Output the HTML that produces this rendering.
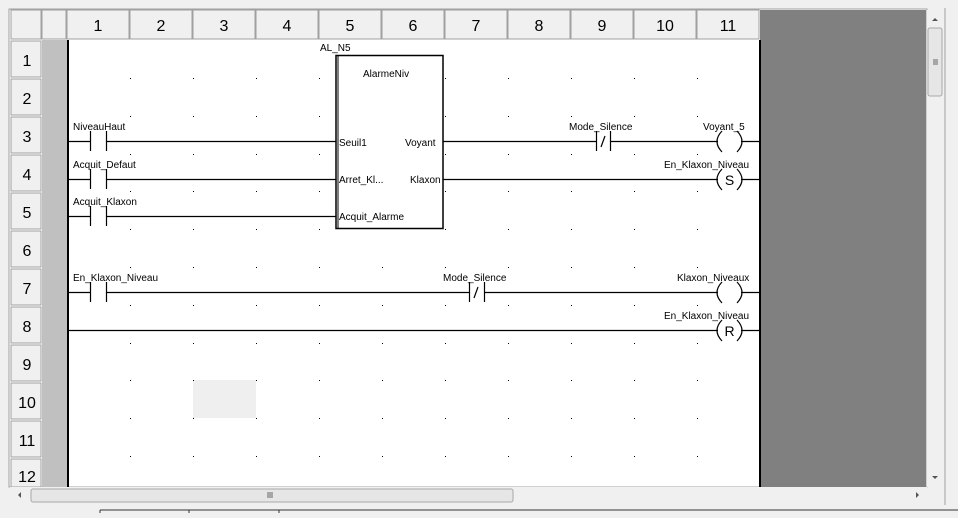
<!DOCTYPE html>
<html><head><style>
body{margin:0;width:958px;height:513px;overflow:hidden;background:#f0f0f0;font-family:"Liberation Sans",sans-serif}
</style></head><body>
<svg width="958" height="513" xmlns="http://www.w3.org/2000/svg" font-family="Liberation Sans, sans-serif">
<rect x="0" y="0" width="958" height="513" fill="#f0f0f0"/>
<rect x="9" y="9" width="918" height="478" fill="#fff" stroke="#a0a0a0"/>
<!-- gray right area -->
<rect x="760" y="10" width="166" height="477" fill="#808080"/>
<!-- gray left band -->
<rect x="42" y="40" width="26" height="447" fill="#c0c0c0"/>
<!-- header row -->
<g fill="#f0f0f0" stroke="#a0a0a0">
<rect x="11" y="10" width="30" height="29"/>
<rect x="42" y="10" width="24" height="29"/>
<rect x="67" y="10" width="62" height="29"/><rect x="130" y="10" width="62" height="29"/><rect x="193" y="10" width="62" height="29"/><rect x="256" y="10" width="62" height="29"/><rect x="319" y="10" width="62" height="29"/><rect x="382" y="10" width="62" height="29"/><rect x="445" y="10" width="62" height="29"/><rect x="508" y="10" width="62" height="29"/><rect x="571" y="10" width="62" height="29"/><rect x="634" y="10" width="62" height="29"/><rect x="697" y="10" width="62" height="29"/>
</g>
<g font-size="16" text-anchor="middle" fill="#000">
<text x="98" y="31">1</text><text x="161" y="31">2</text><text x="224" y="31">3</text><text x="287" y="31">4</text><text x="350" y="31">5</text><text x="413" y="31">6</text><text x="476" y="31">7</text><text x="539" y="31">8</text><text x="602" y="31">9</text><text x="665" y="31">10</text><text x="728" y="31">11</text>
</g>
<!-- row headers -->
<g fill="#f0f0f0" stroke="#a0a0a0">
<rect x="11" y="41" width="30" height="36"/><rect x="11" y="79" width="30" height="36"/><rect x="11" y="117" width="30" height="36"/><rect x="11" y="155" width="30" height="36"/><rect x="11" y="193" width="30" height="36"/><rect x="11" y="231" width="30" height="36"/><rect x="11" y="269" width="30" height="36"/><rect x="11" y="307" width="30" height="36"/><rect x="11" y="345" width="30" height="36"/><rect x="11" y="383" width="30" height="36"/><rect x="11" y="421" width="30" height="36"/><rect x="11" y="459" width="30" height="28"/>
</g>
<g font-size="16" text-anchor="middle" fill="#000">
<text x="27" y="66">1</text><text x="27" y="104">2</text><text x="27" y="142">3</text><text x="27" y="180">4</text><text x="27" y="218">5</text><text x="27" y="256">6</text><text x="27" y="294">7</text><text x="27" y="332">8</text><text x="27" y="370">9</text><text x="27" y="408">10</text><text x="27" y="446">11</text><text x="27" y="482">12</text>
</g>
<!-- selection cell -->
<rect x="193" y="380" width="63" height="38" fill="#efefef"/>
<!-- rails -->
<line x1="68" y1="40" x2="68" y2="487" stroke="#000" stroke-width="2"/>
<line x1="760" y1="40" x2="760" y2="487" stroke="#000" stroke-width="2"/>
<!-- dots -->
<g fill="#000" id="dots">
<rect x="130" y="78" width="1" height="1"/><rect x="193" y="78" width="1" height="1"/><rect x="256" y="78" width="1" height="1"/><rect x="319" y="78" width="1" height="1"/><rect x="445" y="78" width="1" height="1"/><rect x="508" y="78" width="1" height="1"/><rect x="571" y="78" width="1" height="1"/><rect x="634" y="78" width="1" height="1"/><rect x="697" y="78" width="1" height="1"/>
</g>
<g fill="#000">
<rect x="130" y="116" width="1" height="1"/><rect x="193" y="116" width="1" height="1"/><rect x="256" y="116" width="1" height="1"/><rect x="319" y="116" width="1" height="1"/><rect x="445" y="116" width="1" height="1"/><rect x="508" y="116" width="1" height="1"/><rect x="571" y="116" width="1" height="1"/><rect x="634" y="116" width="1" height="1"/><rect x="697" y="116" width="1" height="1"/>
<rect x="130" y="154" width="1" height="1"/><rect x="193" y="154" width="1" height="1"/><rect x="256" y="154" width="1" height="1"/><rect x="319" y="154" width="1" height="1"/><rect x="445" y="154" width="1" height="1"/><rect x="508" y="154" width="1" height="1"/><rect x="571" y="154" width="1" height="1"/><rect x="634" y="154" width="1" height="1"/><rect x="697" y="154" width="1" height="1"/>
<rect x="130" y="191" width="1" height="1"/><rect x="193" y="191" width="1" height="1"/><rect x="256" y="191" width="1" height="1"/><rect x="319" y="191" width="1" height="1"/><rect x="445" y="191" width="1" height="1"/><rect x="508" y="191" width="1" height="1"/><rect x="571" y="191" width="1" height="1"/><rect x="634" y="191" width="1" height="1"/><rect x="697" y="191" width="1" height="1"/>
<rect x="130" y="229" width="1" height="1"/><rect x="193" y="229" width="1" height="1"/><rect x="256" y="229" width="1" height="1"/><rect x="319" y="229" width="1" height="1"/><rect x="445" y="229" width="1" height="1"/><rect x="508" y="229" width="1" height="1"/><rect x="571" y="229" width="1" height="1"/><rect x="634" y="229" width="1" height="1"/><rect x="697" y="229" width="1" height="1"/>
<rect x="130" y="267" width="1" height="1"/><rect x="193" y="267" width="1" height="1"/><rect x="256" y="267" width="1" height="1"/><rect x="319" y="267" width="1" height="1"/><rect x="382" y="267" width="1" height="1"/><rect x="445" y="267" width="1" height="1"/><rect x="508" y="267" width="1" height="1"/><rect x="571" y="267" width="1" height="1"/><rect x="634" y="267" width="1" height="1"/><rect x="697" y="267" width="1" height="1"/>
<rect x="130" y="305" width="1" height="1"/><rect x="193" y="305" width="1" height="1"/><rect x="256" y="305" width="1" height="1"/><rect x="319" y="305" width="1" height="1"/><rect x="382" y="305" width="1" height="1"/><rect x="445" y="305" width="1" height="1"/><rect x="508" y="305" width="1" height="1"/><rect x="571" y="305" width="1" height="1"/><rect x="634" y="305" width="1" height="1"/><rect x="697" y="305" width="1" height="1"/>
<rect x="130" y="343" width="1" height="1"/><rect x="193" y="343" width="1" height="1"/><rect x="256" y="343" width="1" height="1"/><rect x="319" y="343" width="1" height="1"/><rect x="382" y="343" width="1" height="1"/><rect x="445" y="343" width="1" height="1"/><rect x="508" y="343" width="1" height="1"/><rect x="571" y="343" width="1" height="1"/><rect x="634" y="343" width="1" height="1"/><rect x="697" y="343" width="1" height="1"/>
<rect x="130" y="380" width="1" height="1"/><rect x="193" y="380" width="1" height="1"/><rect x="256" y="380" width="1" height="1"/><rect x="319" y="380" width="1" height="1"/><rect x="382" y="380" width="1" height="1"/><rect x="445" y="380" width="1" height="1"/><rect x="508" y="380" width="1" height="1"/><rect x="571" y="380" width="1" height="1"/><rect x="634" y="380" width="1" height="1"/><rect x="697" y="380" width="1" height="1"/>
<rect x="130" y="418" width="1" height="1"/><rect x="193" y="418" width="1" height="1"/><rect x="256" y="418" width="1" height="1"/><rect x="319" y="418" width="1" height="1"/><rect x="382" y="418" width="1" height="1"/><rect x="445" y="418" width="1" height="1"/><rect x="508" y="418" width="1" height="1"/><rect x="571" y="418" width="1" height="1"/><rect x="634" y="418" width="1" height="1"/><rect x="697" y="418" width="1" height="1"/>
<rect x="130" y="456" width="1" height="1"/><rect x="193" y="456" width="1" height="1"/><rect x="256" y="456" width="1" height="1"/><rect x="319" y="456" width="1" height="1"/><rect x="382" y="456" width="1" height="1"/><rect x="445" y="456" width="1" height="1"/><rect x="508" y="456" width="1" height="1"/><rect x="571" y="456" width="1" height="1"/><rect x="634" y="456" width="1" height="1"/><rect x="697" y="456" width="1" height="1"/>
</g>
<!-- function block -->
<rect x="336" y="55.5" width="107" height="173" fill="#fff" stroke="#000" stroke-width="1.5"/>
<line x1="338" y1="56" x2="338" y2="228" stroke="#000"/>
<g font-size="10" fill="#000">
<text x="320" y="51">AL_N5</text>
<text x="363" y="77">AlarmeNiv</text>
<text x="339" y="146">Seuil1</text>
<text x="405" y="146">Voyant</text>
<text x="339" y="183">Arret_Kl...</text>
<text x="410" y="183">Klaxon</text>
<text x="339" y="220">Acquit_Alarme</text>
</g>
<!-- wires -->
<g stroke="#000" stroke-width="1.2" fill="none">
<line x1="68" y1="141.5" x2="90" y2="141.5"/><line x1="106" y1="141.5" x2="336" y2="141.5"/>
<line x1="68" y1="179.5" x2="90" y2="179.5"/><line x1="106" y1="179.5" x2="336" y2="179.5"/>
<line x1="68" y1="216.5" x2="90" y2="216.5"/><line x1="106" y1="216.5" x2="336" y2="216.5"/>
<line x1="443" y1="141.5" x2="596" y2="141.5"/><line x1="610" y1="141.5" x2="718" y2="141.5"/><line x1="741" y1="141.5" x2="760" y2="141.5"/>
<line x1="443" y1="179.5" x2="718" y2="179.5"/><line x1="741" y1="179.5" x2="760" y2="179.5"/>
<line x1="68" y1="292.5" x2="90" y2="292.5"/><line x1="106" y1="292.5" x2="469" y2="292.5"/><line x1="484" y1="292.5" x2="718" y2="292.5"/><line x1="741" y1="292.5" x2="760" y2="292.5"/>
<line x1="68" y1="330.5" x2="718" y2="330.5"/><line x1="741" y1="330.5" x2="760" y2="330.5"/>
<!-- contacts -->
<path d="M90.5 131V151M106.5 131V151"/>
<path d="M90.5 169V189M106.5 169V189"/>
<path d="M90.5 206V226M106.5 206V226"/>
<path d="M90.5 282V302M106.5 282V302"/>
<path d="M596.5 131V151M610.5 131V151M601 147L605 136"/>
<path d="M469.5 282V302M484.5 282V302M474 298L478 287"/>
<!-- coils -->
<path d="M722 131Q712 141.5 722 152M737 131Q747 141.5 737 152"/>
<path d="M722 169Q712 179.5 722 190M737 169Q747 179.5 737 190"/>
<path d="M722 282Q712 292.5 722 303M737 282Q747 292.5 737 303"/>
<path d="M722 320Q712 330.5 722 341M737 320Q747 330.5 737 341"/>
</g>
<g font-size="10" fill="#000">
<text x="73" y="130">NiveauHaut</text>
<text x="73" y="168">Acquit_Defaut</text>
<text x="73" y="205">Acquit_Klaxon</text>
<text x="73" y="281">En_Klaxon_Niveau</text>
<text x="569" y="130">Mode_Silence</text>
<text x="443" y="281">Mode_Silence</text>
<text x="703" y="130">Voyant_5</text>
<text x="664" y="168">En_Klaxon_Niveau</text>
<text x="677" y="281">Klaxon_Niveaux</text>
<text x="664" y="319">En_Klaxon_Niveau</text>
<text x="729.5" y="185" font-size="14" text-anchor="middle">S</text>
<text x="729.5" y="336" font-size="14" text-anchor="middle">R</text>
</g>
<!-- vertical scrollbar -->
<rect x="927" y="10" width="17" height="477" fill="#f0f0f0"/>
<rect x="928" y="28" width="14" height="68" rx="2" fill="#e6e6e6" stroke="#a8a8a8"/>
<path d="M933 62h5M933 60h5M933 64h5" stroke="#666"/>
<path d="M932 21l3-3 3 3z" fill="#555"/>
<path d="M932 476l3 3 3-3z" fill="#555"/>
<!-- horizontal scrollbar -->
<rect x="10" y="487" width="917" height="17" fill="#f0f0f0"/>
<rect x="31" y="489" width="482" height="13" rx="2" fill="#e6e6e6" stroke="#a8a8a8"/>
<path d="M268 492v6M270 492v6M272 492v6" stroke="#666"/>
<path d="M18 495l3-3v6z" fill="#555"/>
<path d="M919 495l-3-3v6z" fill="#555"/>
<line x1="945" y1="8" x2="945" y2="505" stroke="#a0a0a0"/>
<!-- bottom tabs -->
<line x1="100" y1="510" x2="958" y2="510" stroke="#333"/>
<line x1="100" y1="510" x2="100" y2="513" stroke="#333"/>
<line x1="189" y1="510" x2="189" y2="513" stroke="#333"/>
<line x1="279" y1="510" x2="279" y2="513" stroke="#333"/>
</svg>
</body></html>
